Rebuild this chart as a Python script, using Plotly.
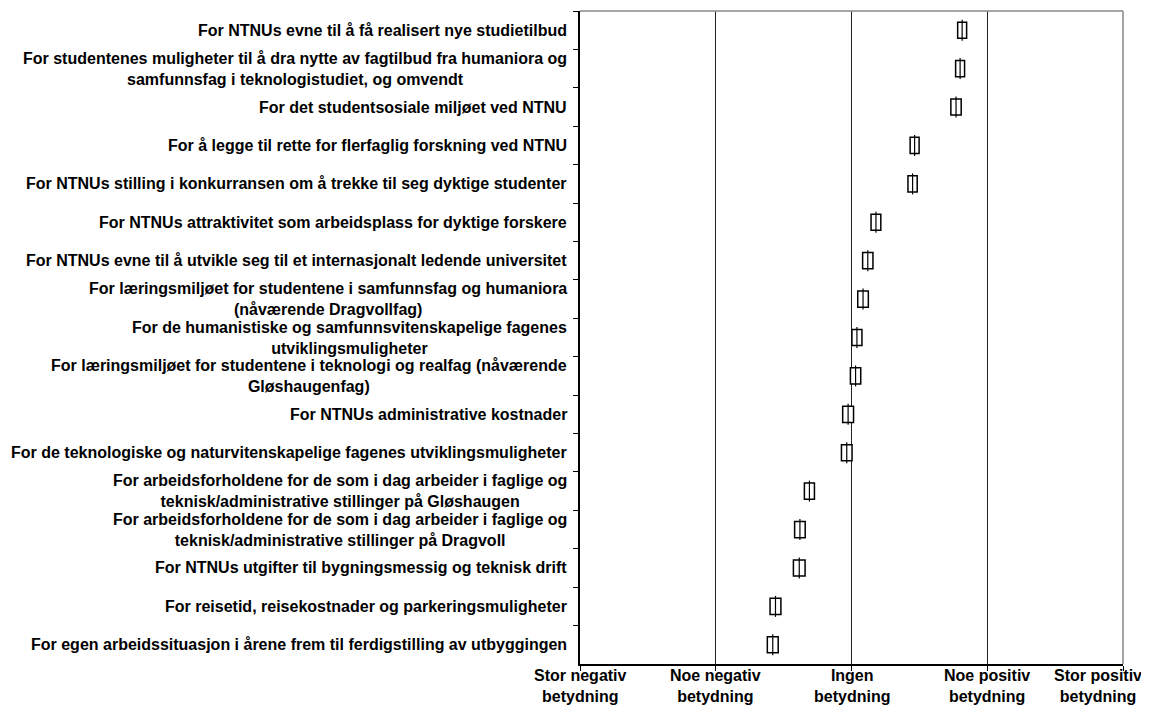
import plotly.graph_objects as go

# ---- data ----
labels = [
    "For NTNUs evne til å få realisert nye studietilbud",
    "For studentenes muligheter til å dra nytte av fagtilbud fra humaniora og<br>samfunnsfag i teknologistudiet, og omvendt",
    "For det studentsosiale miljøet ved NTNU",
    "For å legge til rette for flerfaglig forskning ved NTNU",
    "For NTNUs stilling i konkurransen om å trekke til seg dyktige studenter",
    "For NTNUs attraktivitet som arbeidsplass for dyktige forskere",
    "For NTNUs evne til å utvikle seg til et internasjonalt ledende universitet",
    "For læringsmiljøet for studentene i samfunnsfag og humaniora<br>(nåværende Dragvollfag)",
    "For de humanistiske og samfunnsvitenskapelige fagenes<br>utviklingsmuligheter",
    "For læringsmiljøet for studentene i teknologi og realfag (nåværende<br>Gløshaugenfag)",
    "For NTNUs administrative kostnader",
    "For de teknologiske og naturvitenskapelige fagenes utviklingsmuligheter",
    "For arbeidsforholdene for de som i dag arbeider i faglige og<br>teknisk/administrative stillinger på Gløshaugen",
    "For arbeidsforholdene for de som i dag arbeider i faglige og<br>teknisk/administrative stillinger på Dragvoll",
    "For NTNUs utgifter til bygningsmessig og teknisk drift",
    "For reisetid, reisekostnader og parkeringsmuligheter",
    "For egen arbeidssituasjon i årene frem til ferdigstilling av utbyggingen",
]
means = [3.815, 3.80, 3.77, 3.465, 3.45, 3.18, 3.12, 3.085, 3.04, 3.03,
         2.975, 2.965, 2.69, 2.62, 2.615, 2.44, 2.42]
ci_half = [0.033, 0.033, 0.038, 0.033, 0.034, 0.036, 0.038, 0.039, 0.037, 0.038,
           0.040, 0.039, 0.037, 0.039, 0.043, 0.040, 0.040]
tick_vals = [1, 2, 3, 4, 5]
tick_text = ["Stor negativ<br>betydning", "Noe negativ<br>betydning", "Ingen<br>betydning",
             "Noe positiv<br>betydning", "Stor positiv<br>betydning"]

cats = [f"c{i}" for i in range(len(labels))]
lower = [m - h for m, h in zip(means, ci_half)]
upper = [m + h for m, h in zip(means, ci_half)]

FONT = "Liberation Sans, Arial, sans-serif"
FS = 16

fig = go.Figure()
fig.add_trace(go.Bar(
    y=cats, x=[u - l for u, l in zip(upper, lower)], base=lower,
    orientation="h", width=0.42,
    marker=dict(color="white", line=dict(color="black", width=1.5)),
    hoverinfo="skip", showlegend=False,
))
fig.add_trace(go.Scatter(
    y=cats, x=means, mode="markers",
    marker=dict(symbol="line-ns", size=15, line=dict(color="black", width=1.2)),
    hoverinfo="skip", showlegend=False,
))

annotations = []
for c, lab in zip(cats, labels):
    annotations.append(dict(
        x=0, xref="paper", y=c, yref="y", xanchor="right", yanchor="middle",
        align="center", xshift=-11, showarrow=False,
        text="<br>".join(f"<b>{part}</b>" for part in lab.split("<br>")),
        font=dict(family=FONT, size=FS, color="black"),
    ))

for i, (v, t) in enumerate(zip(tick_vals, tick_text)):
    last = i == len(tick_vals) - 1
    annotations.append(dict(
        x=v, xref="x", y=0, yref="paper",
        xanchor="right" if last else "center", yanchor="top",
        xshift=21 if last else 0, yshift=-1, align="center", showarrow=False,
        text="<br>".join(f"<b>{part}</b>" for part in t.split("<br>")),
        font=dict(family=FONT, size=FS, color="black"),
    ))

n = len(cats)
fig.update_layout(
    width=1141, height=698,
    margin=dict(l=572, r=26, t=3, b=42),
    paper_bgcolor="white", plot_bgcolor="white",
    font=dict(family=FONT, size=FS, color="black"),
    showlegend=False,
    annotations=annotations,
    xaxis=dict(
        range=[1, 5], tickvals=tick_vals, showticklabels=False,
        showgrid=True, gridcolor="#222222", gridwidth=1,
        showline=True, linecolor="black", linewidth=1.5,
        ticks="outside", ticklen=5, tickcolor="black", tickwidth=1,
        zeroline=False, fixedrange=True,
    ),
    yaxis=dict(
        categoryorder="array", categoryarray=cats, range=[n - 0.5, -0.5],
        showticklabels=False, showgrid=False,
        showline=True, linecolor="black", linewidth=1.5,
        ticks="outside", tickson="boundaries", ticklen=5, tickcolor="black",
        zeroline=False, fixedrange=True,
    ),
    shapes=[
        dict(type="line", xref="paper", yref="paper", x0=0, x1=1, y0=1, y1=1,
             line=dict(color="#888888", width=1.5), layer="above"),
        dict(type="line", xref="paper", yref="paper", x0=1, x1=1, y0=0, y1=1,
             line=dict(color="#888888", width=1.5), layer="above"),
    ],
)

fig.write_html("out.html")
